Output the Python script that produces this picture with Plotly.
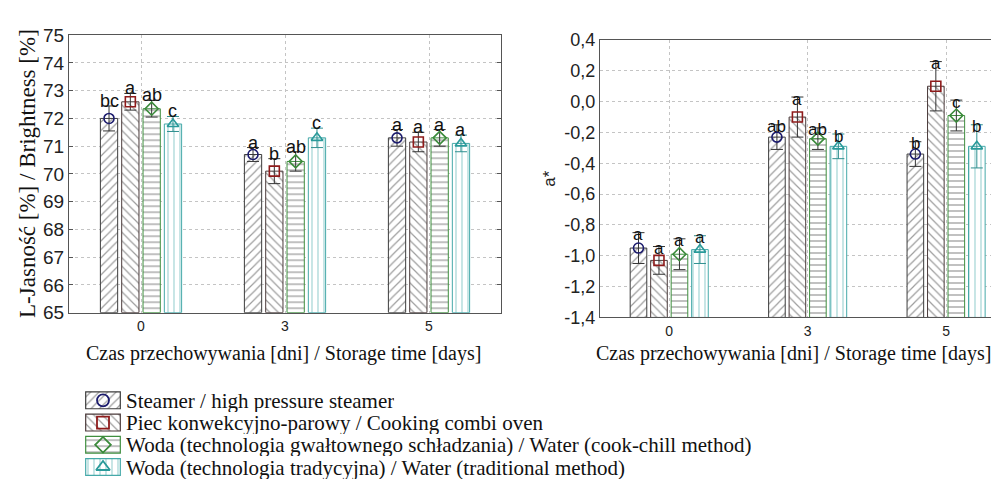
import plotly.graph_objects as go

# ---------------- data ----------------
days = ["0", "3", "5"]
series_names = [
    "Steamer / high pressure steamer",
    "Piec konwekcyjno-parowy / Cooking combi oven",
    "Woda (technologia gwałtownego schładzania) / Water (cook-chill method)",
    "Woda (technologia tradycyjna) / Water (traditional method)",
]

# L* brightness [%]
L_steamer = [72.0, 70.7, 71.3]
L_piec = [72.6, 70.1, 71.15]
L_chill = [72.35, 70.45, 71.3]
L_trad = [71.8, 71.3, 71.1]
L_err_steamer = [0.45, 0.25, 0.3]
L_err_piec = [0.3, 0.45, 0.35]
L_err_chill = [0.3, 0.35, 0.3]
L_err_trad = [0.27, 0.35, 0.3]
L_let_steamer = ["bc", "a", "a"]
L_let_piec = ["a", "b", "a"]
L_let_chill = ["ab", "ab", "a"]
L_let_trad = ["c", "c", "a"]

# a*
a_steamer = [-0.95, -0.23, -0.34]
a_piec = [-1.03, -0.10, 0.10]
a_chill = [-0.99, -0.24, -0.09]
a_trad = [-0.96, -0.29, -0.29]
a_err_steamer = [0.1, 0.08, 0.08]
a_err_piec = [0.09, 0.13, 0.16]
a_err_chill = [0.1, 0.07, 0.1]
a_err_trad = [0.09, 0.08, 0.14]
a_let_steamer = ["a", "ab", "b"]
a_let_piec = ["a", "a", "a"]
a_let_chill = ["a", "ab", "c"]
a_let_trad = ["a", "b", "b"]

L_ticks = [65, 66, 67, 68, 69, 70, 71, 72, 73, 74, 75]
L_ticktext = ["65", "66", "67", "68", "69", "70", "71", "72", "73", "74", "75"]
a_ticks = [-1.4, -1.2, -1.0, -0.8, -0.6, -0.4, -0.2, 0.0, 0.2, 0.4]
a_ticktext = ["-1,4", "-1,2", "-1,0", "-0,8", "-0,6", "-0,4", "-0,2", "0,0", "0,2", "0,4"]

# ---------------- layout helpers ----------------
W, H = 999, 484


def px(x):
    return x / W


def py(y):
    return 1 - y / H


styles = [
    dict(shape="/", fg="#3c3c3c", line="#3c3c3c", sym="circle-open", mc="#1c1c6e", ec="#333333"),
    dict(shape="\\", fg="#3c3c3c", line="#4a3a3a", sym="square-open", mc="#8e1b1b", ec="#333333"),
    dict(shape="-", fg="#2e2e2e", line="#3f8f3f", sym="diamond-open", mc="#3a8a3a", ec="#333333"),
    dict(shape="|", fg="#45a9a9", line="#45a9a9", sym="triangle-up-open", mc="#2a9a9a", ec="#2f8f8f"),
]

SANS = "Liberation Sans, Arial, sans-serif"
NARROW = "Liberation Sans Narrow, Arial Narrow, Liberation Sans, Arial, sans-serif"
SERIF = "Liberation Serif, Times New Roman, serif"

step = 0.148
bw = 0.12

fig = go.Figure()

panels = [
    dict(xa="x", ya="y", base=L_ticks[0],
         vals=[L_steamer, L_piec, L_chill, L_trad],
         errs=[L_err_steamer, L_err_piec, L_err_chill, L_err_trad],
         lets=[L_let_steamer, L_let_piec, L_let_chill, L_let_trad],
         lshift=5, lsize=18),
    dict(xa="x2", ya="y2", base=a_ticks[0],
         vals=[a_steamer, a_piec, a_chill, a_trad],
         errs=[a_err_steamer, a_err_piec, a_err_chill, a_err_trad],
         lets=[a_let_steamer, a_let_piec, a_let_chill, a_let_trad],
         lshift=-2, lsize=17),
]

annotations = []
for p in panels:
    for i, st in enumerate(styles):
        vals = p["vals"][i]
        errs = p["errs"][i]
        xs = [d + (i - 1.5) * step for d in range(len(days))]
        fig.add_trace(go.Bar(
            x=xs, y=[v - p["base"] for v in vals], base=p["base"], width=bw,
            xaxis=p["xa"], yaxis=p["ya"], showlegend=False,
            marker=dict(color="white", line=dict(color=st["line"], width=1),
                        pattern=dict(shape=st["shape"], fgcolor=st["fg"], bgcolor="white",
                                     size=6, solidity=0.2)),
        ))
        fig.add_trace(go.Scatter(
            x=xs, y=vals, mode="markers", xaxis=p["xa"], yaxis=p["ya"], showlegend=False,
            marker=dict(symbol=st["sym"], size=10, color=st["mc"], line=dict(width=1.6, color=st["mc"])),
            error_y=dict(type="data", array=errs, color=st["ec"], thickness=1, width=6),
        ))
        for x, v, e, t in zip(xs, vals, errs, p["lets"][i]):
            annotations.append(dict(
                x=x, y=v + e, xref=p["xa"], yref=p["ya"], text=t, showarrow=False,
                xanchor="center", yanchor="middle", yshift=p["lshift"],
                font=dict(family=NARROW, size=p["lsize"], color="#111111"),
            ))

# ---------------- legend drawn as a small subplot ----------------
for i, st in enumerate(styles):
    fig.add_trace(go.Bar(
        x=[1], y=[i], base=0, width=0.76, orientation="h",
        xaxis="x3", yaxis="y3", showlegend=False,
        marker=dict(color="white", line=dict(color=st["line"], width=1.2),
                    pattern=dict(shape=st["shape"], fgcolor=st["fg"], bgcolor="white",
                                 size=6, solidity=0.2)),
    ))
    fig.add_trace(go.Scatter(
        x=[0.5], y=[i], mode="markers", xaxis="x3", yaxis="y3", showlegend=False,
        marker=dict(symbol=st["sym"], size=12, color=st["mc"], line=dict(width=1.8, color=st["mc"])),
    ))

leg_top, leg_bot = 388, 481
row_h = (leg_bot - leg_top) / len(series_names)
for i, name in enumerate(series_names):
    annotations.append(dict(
        x=px(117), y=py(leg_top + row_h * (i + 0.5)), xref="paper", yref="paper",
        text=name, showarrow=False, xanchor="left", yanchor="middle",
        height=23, valign="middle", borderpad=0,
        font=dict(family=SERIF, size=21, color="#111111"),
    ))

# ---------------- axis titles ----------------
annotations += [
    dict(x=px(20), y=py(163), xref="paper", yref="paper", text="L-Jasność [%] / Brightness [%]",
         textangle=-90, showarrow=False, xanchor="center", yanchor="middle",
         font=dict(family=SERIF, size=23, color="#111111")),
    dict(x=px(542), y=py(168), xref="paper", yref="paper", text="a*",
         textangle=-90, showarrow=False, xanchor="center", yanchor="middle",
         font=dict(family=SANS, size=17, color="#222222")),
    dict(x=px(275), y=py(351), xref="paper", yref="paper",
         text="Czas przechowywania [dni] / Storage time [days]",
         showarrow=False, xanchor="center", yanchor="middle",
         font=dict(family=SERIF, size=20, color="#111111")),
    dict(x=px(785), y=py(351), xref="paper", yref="paper",
         text="Czas przechowywania [dni] / Storage time [days]",
         showarrow=False, xanchor="center", yanchor="middle",
         font=dict(family=SERIF, size=20, color="#111111")),
]

grid = dict(showgrid=True, gridcolor="#c4c4c4", griddash="dot", gridwidth=1, zeroline=False)
xcommon = dict(tickvals=[0, 1, 2], ticktext=days, ticks="", showline=True, linecolor="#555555",
               linewidth=1, mirror=True, tickfont=dict(family=SANS, size=14, color="#222222"),
               ticklabelstandoff=1, **grid)

fig.update_layout(
    width=W, height=H, margin=dict(l=0, r=0, t=0, b=0),
    paper_bgcolor="white", plot_bgcolor="white", showlegend=False,
    barmode="overlay",
    xaxis=dict(domain=[px(61), px(493)], range=[-0.5, 2.5], anchor="y", **xcommon),
    yaxis=dict(domain=[py(308), py(18)], range=[L_ticks[0], L_ticks[-1]], anchor="x",
               tickvals=L_ticks, ticktext=L_ticktext, ticks="inside", ticklen=4, tickcolor="#555555",
               showline=True, linecolor="#555555", linewidth=1, mirror="ticks",
               tickfont=dict(family=SANS, size=19, color="#222222"), **grid),
    xaxis2=dict(domain=[px(592), 1.0], range=[-0.5, 2.44], anchor="y2", **xcommon),
    yaxis2=dict(domain=[py(313), py(23)], range=[a_ticks[0], a_ticks[-1]], anchor="x2",
                tickvals=a_ticks, ticktext=a_ticktext, ticks="", showline=True,
                linecolor="#555555", linewidth=1, mirror=False,
                tickfont=dict(family=SANS, size=18, color="#222222"), **grid),
    xaxis3=dict(domain=[px(77), px(113)], range=[-0.02, 1.02], anchor="y3", visible=False, fixedrange=True),
    yaxis3=dict(domain=[py(leg_bot), py(leg_top)], range=[3.5, -0.5], anchor="x3", visible=False, fixedrange=True),
    annotations=annotations,
)

fig.write_html("out.html")
